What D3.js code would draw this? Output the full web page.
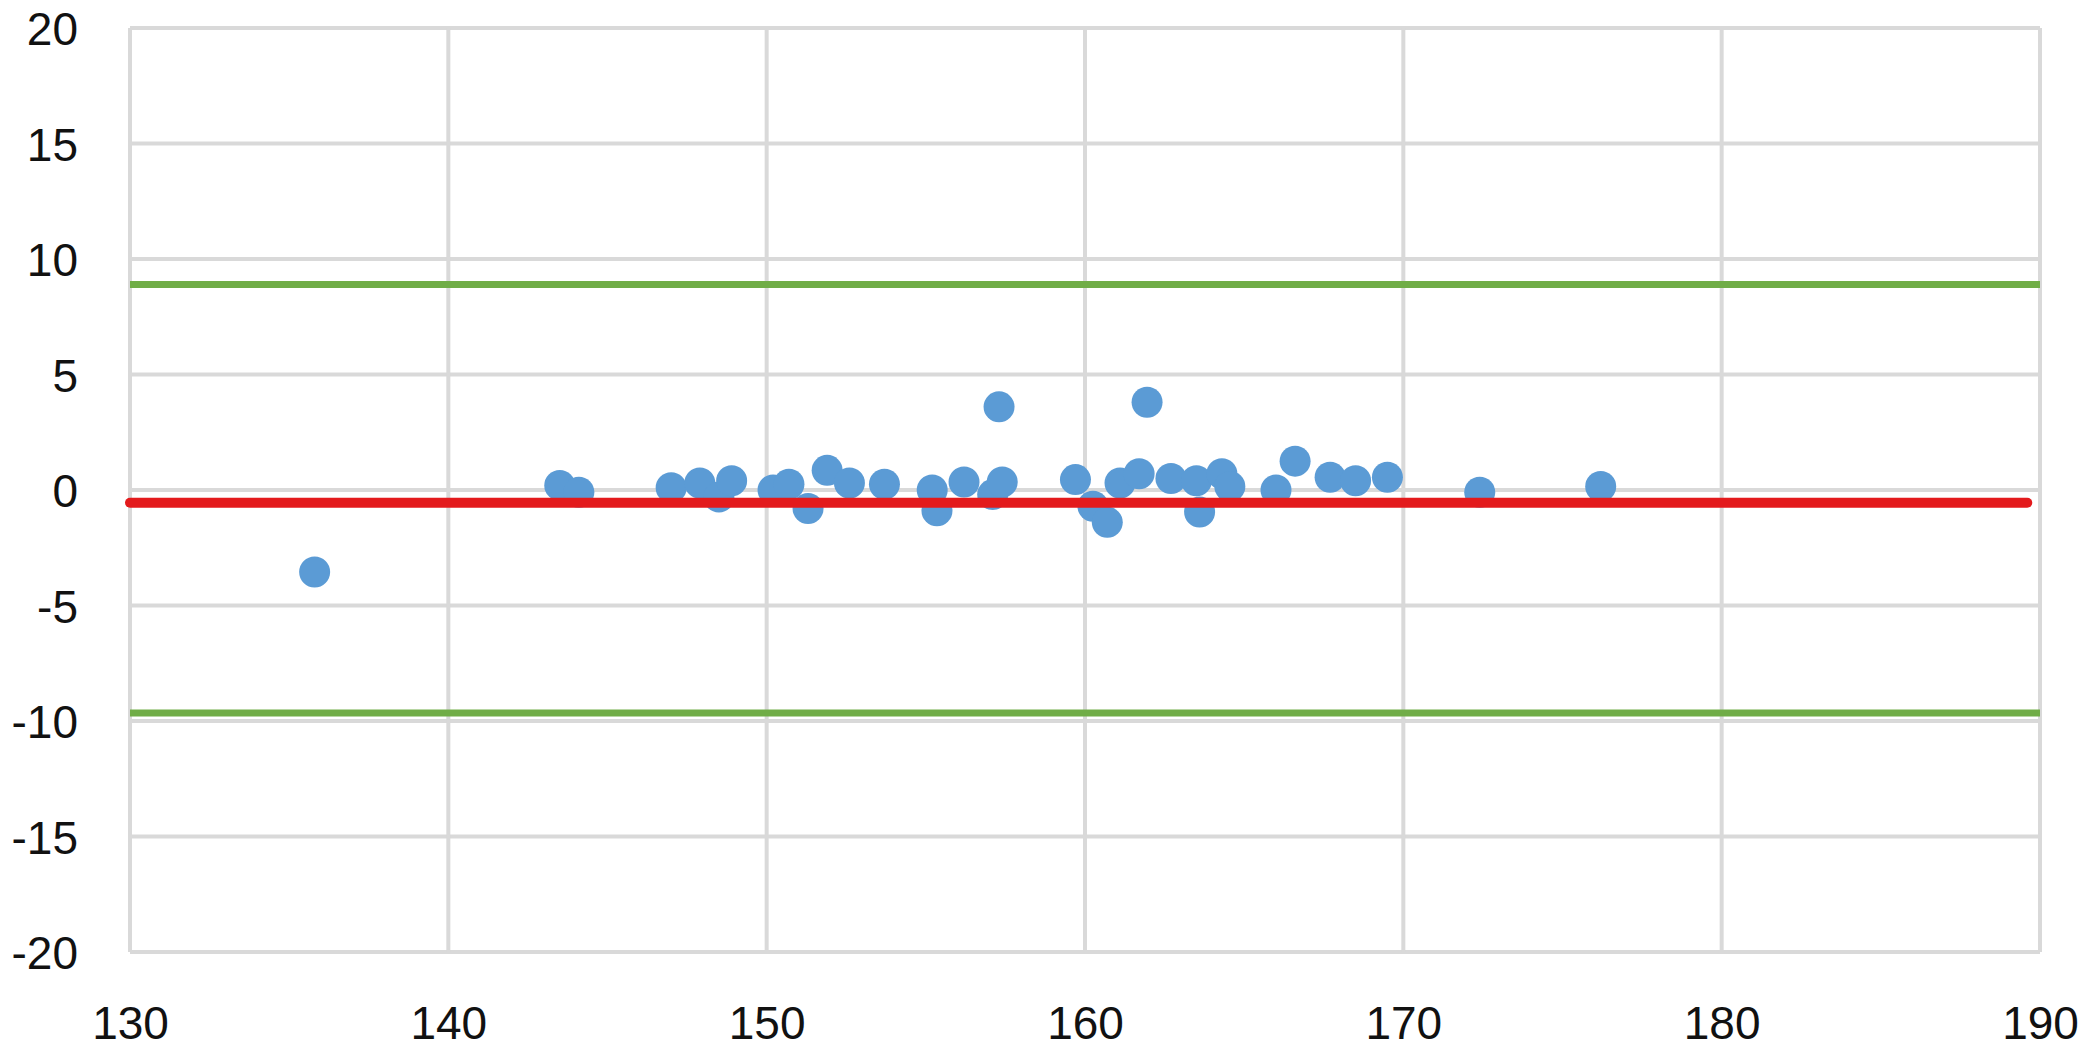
<!DOCTYPE html>
<html lang="en">
<head>
<meta charset="utf-8">
<title>Difference plot</title>
<script src="https://cdn.jsdelivr.net/npm/d3@7"></script>
<style>
  html, body { margin: 0; padding: 0; background: #fff; }
  svg { display: block; }
  .tick text { font-family: "Liberation Sans", Arial, sans-serif; font-size: 46px; fill: #111; }
</style>
</head>
<body>
<script>
// data
var xTicks = [130, 140, 150, 160, 170, 180, 190];
var yTicks = [-20, -15, -10, -5, 0, 5, 10, 15, 20];

var means = [135.8, 143.5, 144.1, 147.0, 147.9, 148.5, 148.9, 150.2, 150.7, 151.3,
             151.9, 152.6, 153.7, 155.2, 155.35, 156.2, 157.1, 157.3, 157.4, 159.7,
             160.25, 160.7, 161.1, 161.7, 161.95, 162.7, 163.5, 163.6, 164.3, 164.55,
             166.0, 166.6, 167.7, 168.5, 169.5, 172.4, 176.2];
var diffs = [-3.55, 0.2, -0.1, 0.1, 0.3, -0.3, 0.4, 0.0, 0.25, -0.8,
             0.85, 0.3, 0.25, 0.0, -0.9, 0.35, -0.2, 3.6, 0.35, 0.45,
             -0.7, -1.4, 0.3, 0.7, 3.8, 0.5, 0.4, -0.95, 0.7, 0.15,
             0.0, 1.25, 0.55, 0.4, 0.55, -0.1, 0.15];

var meanDiff = -0.55;
var upperLimit = 8.9;
var lowerLimit = -9.65;
var meanLineRange = [130, 189.6];

var W = 2091, H = 1050;
var margin = {top: 28, right: 51, bottom: 98, left: 130};

var svg = d3.select("body").append("svg")
    .attr("width", W)
    .attr("height", H);

var x = d3.scaleLinear().domain([130, 190]).range([margin.left, W - margin.right]);
var y = d3.scaleLinear().domain([-20, 20]).range([H - margin.bottom, margin.top]);

// grid
svg.append("g")
    .selectAll("line.h")
    .data(yTicks)
    .enter().append("line")
    .attr("x1", x(130)).attr("x2", x(190))
    .attr("y1", function(d) { return y(d); })
    .attr("y2", function(d) { return y(d); })
    .attr("stroke", "#d9d9d9")
    .attr("stroke-width", 4);

svg.append("g")
    .selectAll("line.v")
    .data(xTicks)
    .enter().append("line")
    .attr("y1", y(-20)).attr("y2", y(20))
    .attr("x1", function(d) { return x(d); })
    .attr("x2", function(d) { return x(d); })
    .attr("stroke", "#d9d9d9")
    .attr("stroke-width", 4);

// axes (labels only), plain hyphen for negatives like the original
var fmt = function(d) { return String(d); };

var xAxis = svg.append("g")
    .attr("transform", "translate(0," + y(-20) + ")")
    .call(d3.axisBottom(x).tickValues(xTicks).tickFormat(fmt).tickSize(0).tickPadding(54));
xAxis.select(".domain").remove();

var yAxis = svg.append("g")
    .attr("transform", "translate(" + x(130) + ",0)")
    .call(d3.axisLeft(y).tickValues(yTicks).tickFormat(fmt).tickSize(0).tickPadding(52));
yAxis.select(".domain").remove();
yAxis.selectAll(".tick text").attr("dy", "0.36em");

// limits of agreement
svg.append("g")
    .selectAll("line")
    .data([upperLimit, lowerLimit])
    .enter().append("line")
    .attr("x1", x(130)).attr("x2", x(190))
    .attr("y1", function(d) { return y(d); })
    .attr("y2", function(d) { return y(d); })
    .attr("stroke", "#70ad47")
    .attr("stroke-width", 7);

// points
svg.append("g")
    .selectAll("circle")
    .data(means)
    .enter().append("circle")
    .attr("cx", function(d) { return x(d); })
    .attr("cy", function(d, i) { return y(diffs[i]); })
    .attr("r", 15.5)
    .attr("fill", "#5b9bd5");

// mean difference
svg.append("line")
    .attr("x1", x(meanLineRange[0])).attr("x2", x(meanLineRange[1]))
    .attr("y1", y(meanDiff)).attr("y2", y(meanDiff))
    .attr("stroke", "#e31a1c")
    .attr("stroke-width", 10)
    .attr("stroke-linecap", "round");
</script>
</body>
</html>
